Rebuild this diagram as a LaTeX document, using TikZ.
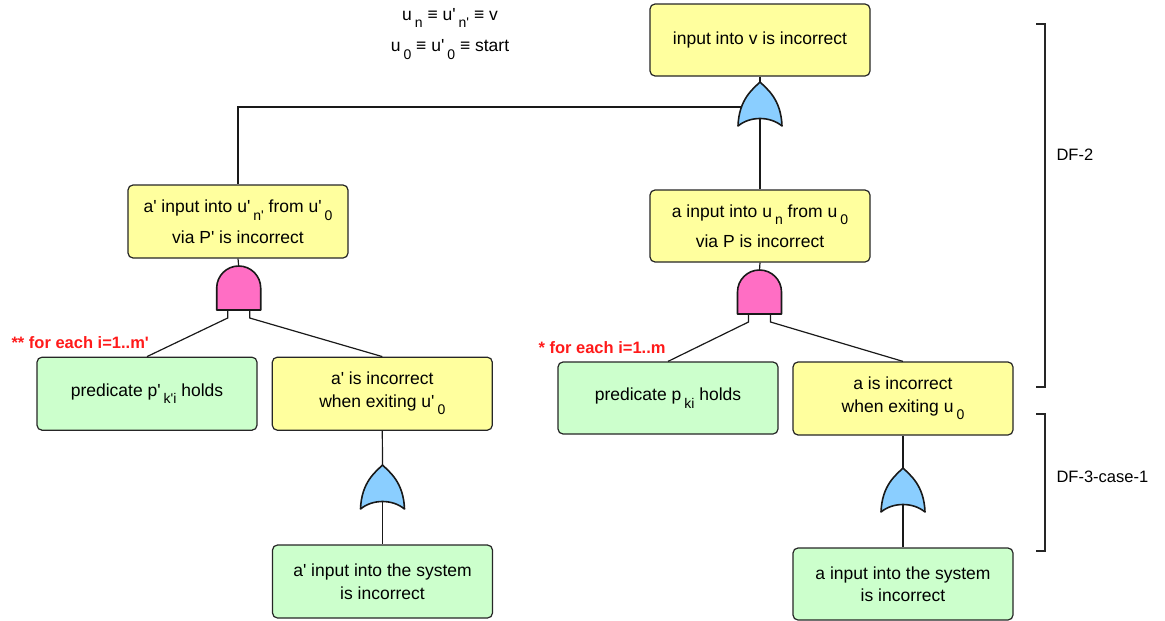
\documentclass[tikz,border=0pt]{standalone}
\usepackage{fontspec}
\setmainfont{Liberation Sans}[Ligatures=TeXOff]
\usepackage{tikz}
\usetikzlibrary{positioning}

\definecolor{evyellow}{HTML}{FFFF9E}
\definecolor{evgreen}{HTML}{CCFFCC}
\definecolor{orblue}{HTML}{8ACEFF}
\definecolor{andpink}{HTML}{FF6EC4}
\definecolor{notered}{HTML}{FF1A1A}

\newcommand{\evfont}{\fontsize{17.5}{22.5}\selectfont}
\newcommand{\lo}[1]{\hspace{3pt}\raisebox{-7.5pt}{\fontsize{14}{14}\selectfont #1}}

% gates: apex / dome top at the pic origin, y grows downwards
\tikzset{
  orgate/.pic = {
    \draw[gate, fill=orblue] (0,0) .. controls (-7,7) and (-21,17) .. (-22,44)
      .. controls (-10,34) and (10,34) .. (22,44)
      .. controls (21,17) and (7,7) .. (0,0) -- cycle;
    \coordinate (-out)  at (0,0);
    \coordinate (-in)   at (0,37);
    \coordinate (-side) at (-19,25);
  },
  andgate/.pic = {
    \draw[gate, fill=andpink] (-22,44) -- (-22,22)
      arc[start angle=180, end angle=360, radius=22] -- (22,44) -- cycle;
    \coordinate (-out) at (0,0);
    \coordinate (-lt) at (-11,44);
    \coordinate (-lb) at (-11,52);
    \coordinate (-rt) at (11,44);
    \coordinate (-rb) at (11,52);
  }
}

\begin{document}
\begin{tikzpicture}[
  x=1pt, y=-1pt,
  event/.style   = {rectangle, rounded corners=5pt, draw=black!85,
                    line width=1.2pt, minimum width=220pt,
                    minimum height=72pt, font=\evfont, align=center,
                    inner sep=2pt},
  intev/.style   = {event, fill=evyellow},
  basicev/.style = {event, fill=evgreen},
  wire/.style    = {line width=1.2pt, black!90},
  gate/.style    = {line width=1.6pt, draw=black!90, line join=round},
  note/.style    = {font=\fontsize{16.5}{20}\selectfont\bfseries,
                    text=notered},
  bracket/.style = {line width=1.2pt, black!85},
  tag/.style     = {font=\fontsize{16.5}{20}\selectfont, anchor=west}
]
\useasboundingbox (0,0) rectangle (1165,621);

% ===================== TOP =====================
\node[font=\evfont, align=center] (defs) at (450,34)
  {u\lo{n} ≡ u'\lo{n'} ≡ v\\[9pt]u\lo{0} ≡ u'\lo{0} ≡ start};

\node[intev] (top) at (760,40) {input into v is incorrect};
\pic (orTop) at (760,82) {orgate};

% ===================== LEFT BRANCH =====================
\node[intev, minimum height=73pt] (midL) at (238,221.5)
  {a' input into u'\lo{n'} from u'\lo{0}\\[8pt]via P' is incorrect};
\pic (andL) at (238.7,266) {andgate};

\node[basicev, minimum height=73pt] (predL) at (147,393.7)
  {predicate p'\lo{k'i} holds};
\node[intev, minimum height=73pt] (exitL) at (382.3,393.7)
  {a' is incorrect\\when exiting u'\lo{0}};
\node[note, anchor=west] (forL) at (8,343) {** for each i=1..m'};

\pic (orL) at (382.5,465) {orgate};
\node[basicev, minimum height=73pt] (sysL) at (382.5,581.5)
  {a' input into the system\\is incorrect};

% ===================== RIGHT BRANCH =====================
\node[intev] (midR) at (760,226)
  {a input into u\lo{n} from u\lo{0}\\[8pt]via P is incorrect};
\pic (andR) at (759.5,270) {andgate};

\node[basicev] (predR) at (668,398) {predicate p\lo{ki} holds};
\node[intev, minimum height=73pt] (exitR) at (903,398.5)
  {a is incorrect\\when exiting u\lo{0}};
\node[note, anchor=west] (forR) at (535,348) {* for each i=1..m};

\pic (orR) at (903,468) {orgate};
\node[basicev] (sysR) at (903,584)
  {a input into the system\\is incorrect};

% wires
\draw[wire] (top.south) -- (orTop-out);
\draw[wire] (orTop-in) -- (midR.north);
\draw[wire] (orTop-side) -| (midL.north);

\draw[wire] (midL.south) -- (andL-out);
\draw[wire] (andL-lt) -- (andL-lb) -- (predL.north);
\draw[wire] (andL-rt) -- (andL-rb) -- (exitL.north);
\draw[wire] (exitL.south) -- (orL-out);
\draw[wire] (orL-in) -- (sysL.north);

\draw[wire] (midR.south) -- (andR-out);
\draw[wire] (andR-lt) -- (andR-lb) -- (predR.north);
\draw[wire] (andR-rt) -- (andR-rb) -- (exitR.north);
\draw[wire] (exitR.south) -- (orR-out);
\draw[wire] (orR-in) -- (sysR.north);

% ===================== BRACKETS =====================
\draw[bracket] (1036,24) -- (1045,24) -- (1045,387) -- (1036,387);
\node[tag] (df2) at (1053,155) {DF-2};
\draw[bracket] (1036,414) -- (1045,414) -- (1045,551) -- (1036,551);
\node[tag] (df3) at (1053,477) {DF-3-case-1};

\end{tikzpicture}
\end{document}
